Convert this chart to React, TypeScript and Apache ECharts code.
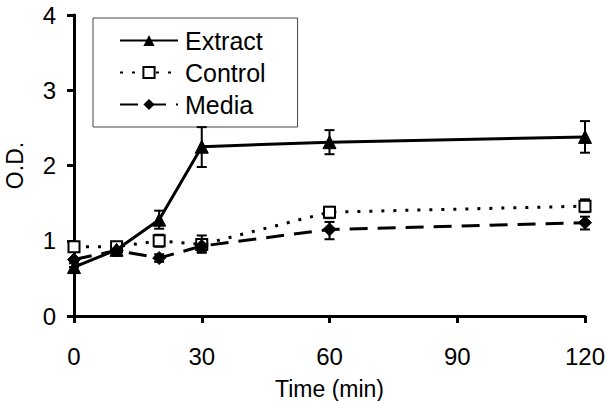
import React, { useEffect, useRef } from "react";
import * as echarts from "echarts";

const times = [0, 10, 20, 30, 60, 120];
const extract = [0.65, 0.88, 1.28, 2.25, 2.31, 2.38];
const extractLo = [0.6, 0.83, 1.16, 1.98, 2.15, 2.17];
const extractHi = [0.7, 0.93, 1.4, 2.51, 2.47, 2.59];
const control = [0.92, 0.92, 1.0, 0.95, 1.38, 1.46];
const controlLo = [0.88, 0.88, 0.92, 0.84, 1.3, 1.38];
const controlHi = [0.96, 0.96, 1.08, 1.07, 1.45, 1.55];
const media = [0.75, 0.87, 0.77, 0.93, 1.15, 1.24];
const mediaLo = [0.65, 0.8, 0.72, 0.85, 1.02, 1.15];
const mediaHi = [0.85, 0.92, 0.82, 1.0, 1.25, 1.32];
const xTicks = [0, 30, 60, 90, 120];
const yTicks = [0, 1, 2, 3, 4];

const FONT = "'Liberation Sans', Arial, sans-serif";

function errSeries(name: string, lo: number[], hi: number[]) {
  return {
    name: name + " err",
    type: "custom",
    silent: true,
    z: 5,
    data: times.map((t, i) => [t, lo[i], hi[i]]),
    renderItem: (params: any, api: any) => {
      const x = api.value(0);
      const p1 = api.coord([x, api.value(1)]);
      const p2 = api.coord([x, api.value(2)]);
      const w = 5;
      const style = { stroke: "#000", lineWidth: 2 };
      return {
        type: "group",
        children: [
          { type: "line", shape: { x1: p1[0], y1: p1[1], x2: p2[0], y2: p2[1] }, style },
          { type: "line", shape: { x1: p1[0] - w, y1: p1[1], x2: p1[0] + w, y2: p1[1] }, style },
          { type: "line", shape: { x1: p2[0] - w, y1: p2[1], x2: p2[0] + w, y2: p2[1] }, style },
        ],
      };
    },
  };
}

export default function App() {
  const ref = useRef<HTMLDivElement>(null);
  useEffect(() => {
    const chart = echarts.init(ref.current!, null, { renderer: "svg" });
    chart.setOption({
      animation: false,
      backgroundColor: "#fff",
      textStyle: { fontFamily: FONT, color: "#000" },
      grid: { left: 74, right: 21, top: 15, bottom: 85, containLabel: false, outerBoundsMode: "none" },
      legend: {
        data: ["Extract", "Control", "Media"],
        orient: "vertical",
        left: 93,
        top: 18,
        padding: [10, 32, 10, 26],
        itemGap: 7,
        itemWidth: 58,
        itemHeight: 14,
        borderColor: "#444",
        borderWidth: 1,
        textStyle: { fontSize: 25, color: "#000", fontFamily: FONT, padding: [0, 0, 0, 2] },
      },
      xAxis: {
        type: "value",
        min: 0,
        max: 120,
        interval: 30,
        name: "Time (min)",
        nameLocation: "middle",
        nameGap: 61,
        nameTextStyle: { fontSize: 23, color: "#000", fontFamily: FONT },
        axisLine: { lineStyle: { color: "#000", width: 3 } },
        axisTick: { show: true, length: 7, lineStyle: { color: "#000", width: 3 } },
        axisLabel: { fontSize: 24, color: "#000", margin: 28, fontFamily: FONT, customValues: xTicks },
        splitLine: { show: false },
      },
      yAxis: {
        type: "value",
        min: 0,
        max: 4,
        interval: 1,
        name: "O.D.",
        nameLocation: "middle",
        nameRotate: 90,
        nameGap: 48,
        nameTextStyle: { fontSize: 23, color: "#000", fontFamily: FONT },
        axisLine: { show: true, lineStyle: { color: "#000", width: 3 } },
        axisTick: { show: true, length: 7, lineStyle: { color: "#000", width: 3 } },
        axisLabel: { fontSize: 24, color: "#000", margin: 18, fontFamily: FONT, customValues: yTicks },
        splitLine: { show: false },
      },
      series: [
        errSeries("Control", controlLo, controlHi),
        errSeries("Media", mediaLo, mediaHi),
        errSeries("Extract", extractLo, extractHi),
        {
          name: "Control",
          type: "line",
          z: 6,
          data: times.map((t, i) => [t, control[i]]),
          symbol: "rect",
          symbolSize: 11,
          lineStyle: { color: "#000", width: 3, type: [3, 9] },
          itemStyle: { color: "#fff", borderColor: "#000", borderWidth: 2 },
        },
        {
          name: "Media",
          type: "line",
          z: 7,
          data: times.map((t, i) => [t, media[i]]),
          symbol: "diamond",
          symbolSize: 13,
          lineStyle: { color: "#000", width: 3, type: [18, 10] },
          itemStyle: { color: "#000", borderColor: "#000" },
        },
        {
          name: "Extract",
          type: "line",
          z: 8,
          data: times.map((t, i) => [t, extract[i]]),
          symbol: "triangle",
          symbolSize: 13,
          lineStyle: { color: "#000", width: 3 },
          itemStyle: { color: "#000", borderColor: "#000" },
        },
      ],
    });
    return () => chart.dispose();
  }, []);
  return <div ref={ref} style={{ width: 606, height: 401, position: "absolute", left: 0, top: 0 }} />;
}
